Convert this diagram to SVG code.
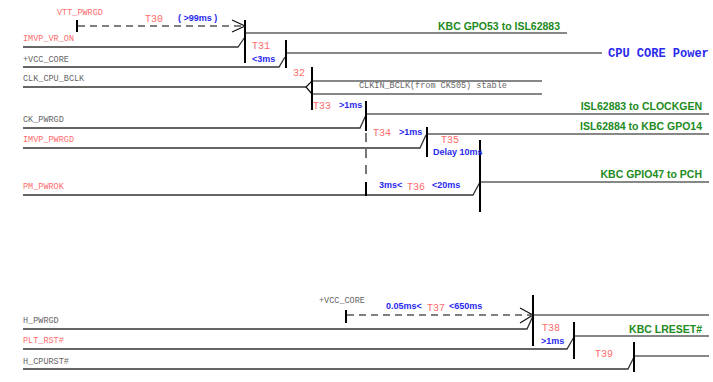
<svg xmlns="http://www.w3.org/2000/svg" width="713" height="382" viewBox="0 0 713 382">
<style>
.sig{stroke:#333;stroke-width:1.3;fill:none}
.out{stroke:#111;stroke-width:1.2;fill:none}
.edge{stroke:#000;stroke-width:2;fill:none}
.dash{stroke:#555;stroke-width:1.5;fill:none;stroke-dasharray:7,5}
.vdash{stroke:#777;stroke-width:2;fill:none;stroke-dasharray:9,7}
.lbl{font-family:"Liberation Mono",monospace;font-size:8.5px;fill:#666}
.lblr{font-family:"Liberation Mono",monospace;font-size:8.5px;fill:#ff6b6b}
.t{font-family:"Liberation Mono",monospace;font-size:10px;fill:#ff6b6b}
.ms{font-family:"Liberation Sans",Arial,sans-serif;font-size:9px;font-weight:bold;fill:#2a2aee}
.g{font-family:"Liberation Sans",Arial,sans-serif;font-size:10.5px;font-weight:bold;fill:#228b22;text-anchor:end}
</style>
<rect width="713" height="382" fill="#fff"/>

<g id="VTT_PWRGD">
<text class="lblr" x="57" y="15">VTT_PWRGD</text>
<line class="edge" x1="77" y1="20" x2="77" y2="32"/>
</g>

<g id="IMVP_VR_ON">
<text class="lblr" x="23" y="41">IMVP_VR_ON</text>
<polyline class="sig" points="23,47 238,47 245,37"/>
</g>

<g id="KBC_GPO53">
<line class="edge" x1="245" y1="20" x2="245" y2="63"/>
<line class="out" x1="245" y1="33" x2="567" y2="33"/>
<text class="g" x="560" y="30">KBC GPO53 to ISL62883</text>
</g>

<g id="VCC_CORE">
<text class="lbl" x="23" y="62">+VCC_CORE</text>
<polyline class="sig" points="23,67 279,67 285,57"/>
<line class="edge" x1="286" y1="40" x2="286" y2="68"/>
<line class="out" x1="286" y1="53" x2="602" y2="53"/>
<text x="608" y="57" font-family="'Liberation Mono',monospace" font-size="12" font-weight="bold" fill="#2a2aee">CPU CORE Power</text>
</g>

<g id="CLK_CPU_BCLK">
<text class="lbl" x="23" y="81">CLK_CPU_BCLK</text>
<line class="sig" x1="23" y1="87" x2="306" y2="87"/>
<polyline class="out" points="312,81 306,87 312,94"/>
<line class="edge" x1="312" y1="67" x2="312" y2="110"/>
<line class="out" x1="312" y1="81" x2="542" y2="81"/>
<line class="out" x1="312" y1="94" x2="542" y2="94"/>
<text class="lbl" x="359" y="88">CLKIN_BCLK(from CK505) stable</text>
</g>

<g id="CK_PWRGD">
<text class="lbl" x="23" y="122">CK_PWRGD</text>
<polyline class="sig" points="23,128 360,128 366,115"/>
<line class="edge" x1="366" y1="101" x2="366" y2="131"/>
<line class="out" x1="366" y1="114" x2="709" y2="114"/>
<text class="g" x="702" y="110">ISL62883 to CLOCKGEN</text>
</g>

<g id="IMVP_PWRGD">
<text class="lblr" x="23" y="142">IMVP_PWRGD</text>
<polyline class="sig" points="23,148 420,148 426,135"/>
<line class="edge" x1="427" y1="127" x2="427" y2="157"/>
<line class="out" x1="427" y1="134" x2="709" y2="134"/>
<text class="g" x="702" y="130">ISL62884 to KBC GPO14</text>
</g>

<g id="PM_PWROK">
<text class="lblr" x="23" y="189">PM_PWROK</text>
<polyline class="sig" points="23,195 473,195 480,182"/>
<line class="edge" x1="480" y1="140" x2="480" y2="212"/>
<line class="out" x1="480" y1="182" x2="709" y2="182"/>
<text class="g" x="702" y="178">KBC GPIO47 to PCH</text>
</g>

<g id="VCC_CORE_2">
<text class="lbl" x="319" y="303">+VCC_CORE</text>
<line class="edge" x1="346" y1="310" x2="346" y2="323"/>
</g>

<g id="H_PWRGD">
<text class="lbl" x="23" y="323">H_PWRGD</text>
<polyline class="sig" points="23,329 527,329 533,316"/>
<line class="edge" x1="533" y1="295" x2="533" y2="346"/>
<line class="out" x1="533" y1="315" x2="709" y2="315"/>
</g>

<g id="PLT_RST">
<text class="lblr" x="23" y="343">PLT_RST#</text>
<polyline class="sig" points="23,349 567,349 574,337"/>
<line class="edge" x1="574" y1="322" x2="574" y2="359"/>
<line class="out" x1="574" y1="336" x2="709" y2="336"/>
<text class="g" x="702" y="333">KBC LRESET#</text>
</g>

<g id="H_CPURST">
<text class="lbl" x="23" y="364">H_CPURST#</text>
<polyline class="sig" points="23,369 628,369 634,357"/>
<line class="edge" x1="634" y1="342" x2="634" y2="372"/>
<line class="out" x1="634" y1="356" x2="709" y2="356"/>
</g>

<g id="connectors">
<line class="dash" x1="78" y1="26" x2="243" y2="26"/>
<polyline class="out" points="232,20 245,26 232,32"/>
<line class="vdash" x1="366" y1="133" x2="366" y2="181"/>
<line class="edge" x1="366" y1="182" x2="366" y2="196"/>
<line class="dash" x1="347" y1="315" x2="531" y2="315"/>
<polyline class="out" points="520,308 533,315 520,323"/>
</g>

<g id="timing-labels">
<text class="t" x="145" y="22">T30</text>
<text class="ms" x="178" y="21">( &gt;99ms )</text>
<text class="t" x="252" y="49">T31</text>
<text class="ms" x="252" y="62">&lt;3ms</text>
<text class="t" x="293" y="76">32</text>
<text class="t" x="313" y="109">T33</text>
<text class="ms" x="339" y="108">&gt;1ms</text>
<text class="t" x="373" y="136">T34</text>
<text class="ms" x="399" y="135">&gt;1ms</text>
<text class="t" x="441" y="143">T35</text>
<text class="ms" x="433" y="155">Delay 10ms</text>
<text class="ms" x="379" y="188">3ms&lt;</text>
<text class="t" x="407" y="190">T36</text>
<text class="ms" x="432" y="188">&lt;20ms</text>
<text class="ms" x="386" y="309">0.05ms&lt;</text>
<text class="t" x="427" y="311">T37</text>
<text class="ms" x="449" y="309">&lt;650ms</text>
<text class="t" x="542" y="331">T38</text>
<text class="ms" x="541" y="344">&gt;1ms</text>
<text class="t" x="595" y="357">T39</text>
</g>
</svg>
